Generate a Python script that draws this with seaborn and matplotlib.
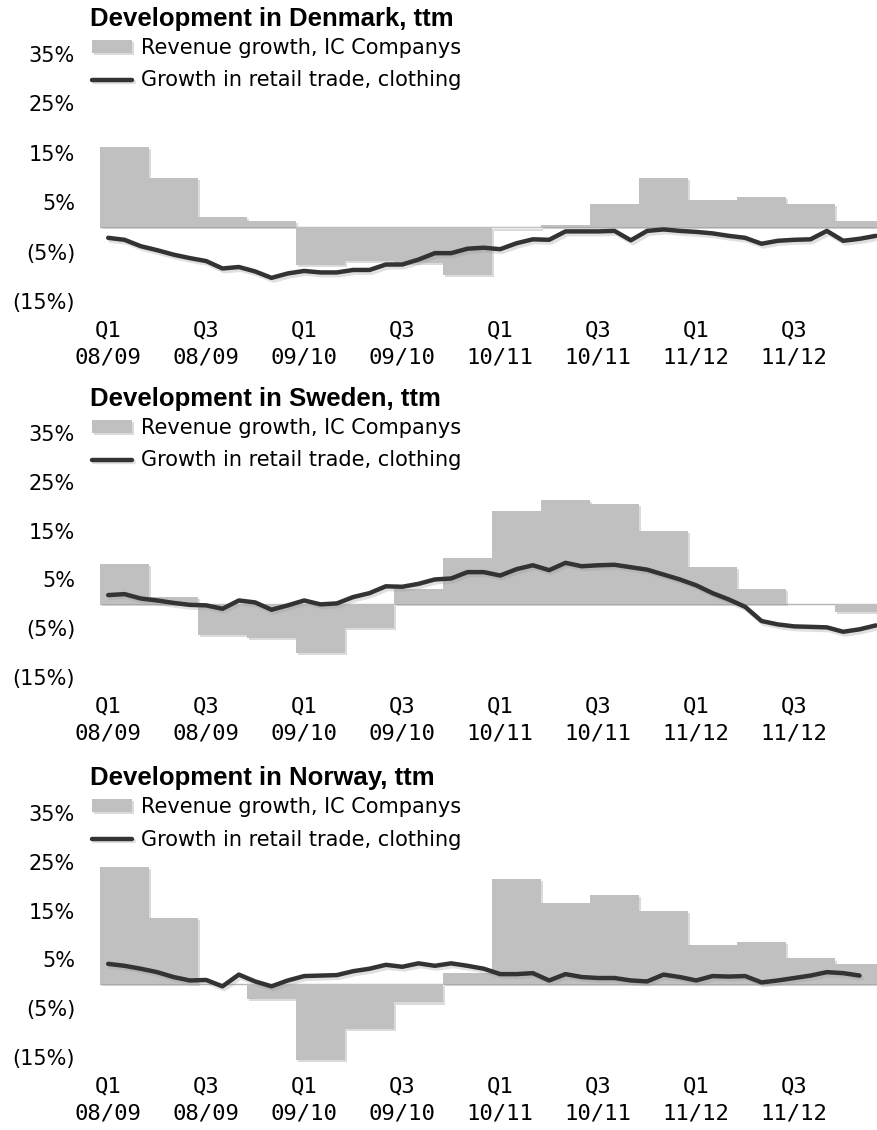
import numpy as np
import pandas as pd
import matplotlib
matplotlib.use("Agg")
import matplotlib.pyplot as plt
import matplotlib.patheffects as pe
import seaborn as sns

# months Q1 08/09 .. Q4 11/12 (48 months, 16 quarters)
months = np.arange(48)
quarter_mid = np.arange(1, 48, 3)
tick_months = [0, 6, 12, 18, 24, 30, 36, 42]
tick_labels = ["Q1\n08/09", "Q3\n08/09", "Q1\n09/10", "Q3\n09/10",
               "Q1\n10/11", "Q3\n10/11", "Q1\n11/12", "Q3\n11/12"]
ytick_vals = [35, 25, 15, 5, -5, -15]

countries = ["Denmark", "Sweden", "Norway"]

dk_rev = [16.2, 10.0, 2.1, 1.3, -7.7, -6.9, -7.3, -9.8, -0.3, 0.4, 4.6, 10.0, 5.4, 6.1, 4.6, 1.2]
dk_retail = [-2.2, -2.6, -3.9, -4.7, -5.6, -6.3, -6.9, -8.4, -8.1, -9.0, -10.3, -9.4,
             -8.9, -9.2, -9.2, -8.7, -8.7, -7.6, -7.6, -6.6, -5.3, -5.3, -4.4, -4.2,
             -4.5, -3.3, -2.5, -2.6, -0.9, -0.9, -0.9, -0.8, -2.7, -0.8, -0.5, -0.8,
             -1.0, -1.3, -1.8, -2.2, -3.4, -2.8, -2.6, -2.5, -0.8, -2.8, -2.4, -1.8]

se_rev = [8.2, 1.4, -6.4, -6.9, -10.0, -4.9, 3.1, 9.3, 19.0, 21.2, 20.4, 15.0, 7.5, 3.1, 0.0, -1.6]
se_retail = [1.8, 2.0, 1.1, 0.7, 0.2, -0.2, -0.3, -1.0, 0.7, 0.3, -1.2, -0.3,
             0.7, -0.1, 0.1, 1.4, 2.2, 3.6, 3.5, 4.1, 5.0, 5.2, 6.5, 6.5,
             5.8, 7.1, 7.9, 6.9, 8.4, 7.7, 7.9, 8.0, 7.5, 7.0, 6.0, 5.0,
             3.8, 2.2, 0.9, -0.6, -3.5, -4.2, -4.6, -4.7, -4.8, -5.7, -5.2, -4.4]

no_rev = [24.0, 13.5, 0.0, -3.1, -15.5, -9.2, -3.8, 2.2, 21.4, 16.5, 18.2, 15.0, 8.0, 8.5, 5.2, 4.1]
no_retail = [4.1, 3.7, 3.1, 2.4, 1.4, 0.7, 0.8, -0.5, 1.9, 0.5, -0.5, 0.7,
             1.6, 1.7, 1.8, 2.6, 3.1, 3.9, 3.5, 4.2, 3.7, 4.2, 3.7, 3.1,
             2.0, 2.0, 2.2, 0.7, 2.0, 1.4, 1.2, 1.2, 0.7, 0.5, 1.9, 1.4,
             0.7, 1.6, 1.5, 1.6, 0.3, 0.7, 1.2, 1.7, 2.4, 2.2, 1.7]

revs = [dk_rev, se_rev, no_rev]
retails = [dk_retail, se_retail, no_retail]

sns.set_style("white")
plt.rcParams["font.family"] = ["DejaVu Sans"]
plt.rcParams["text.color"] = "black"
plt.rcParams["xtick.color"] = "black"
plt.rcParams["ytick.color"] = "black"

W, H = 877, 1130
fig = plt.figure(figsize=(W / 100, H / 100), dpi=100)

# pixel layout of each panel: (top, bottom) of the axes, title y
panels = [(44, 311, 18), (423, 687, 398), (803, 1067, 777)]
x_left, x_right = 100, 884

def fmt_pct(v):
    return "%d%%" % v if v >= 0 else "(%d%%)" % -v

for i in range(3):
    top, bot, ty = panels[i]
    ax = fig.add_axes([x_left / W, 1 - bot / H, (x_right - x_left) / W, (bot - top) / H])

    bars = pd.DataFrame({"month": quarter_mid, "growth": revs[i]})
    line = pd.DataFrame({"month": months[:len(retails[i])], "growth": retails[i]})

    ax.axhline(0, color="#b4b4b4", lw=1.0, zorder=0.5)
    sns.barplot(data=bars, x="month", y="growth", native_scale=True, orient="x",
                width=1.0, color="#c0c0c0", saturation=1, errorbar=None,
                linewidth=0, label="Revenue growth, IC Companys", ax=ax)
    for p in ax.patches:
        p.set_path_effects([pe.SimplePatchShadow(offset=(1.5, -1.5), shadow_rgbFace="0.6", alpha=0.35),
                            pe.Normal()])
    sns.lineplot(data=line, x="month", y="growth", color="#333333", lw=3.2,
                 label="Growth in retail trade, clothing", ax=ax,
                 path_effects=[pe.SimpleLineShadow(offset=(1.5, -2), shadow_color="0.6", alpha=0.3),
                               pe.Normal()])

    ax.set_xlim(-0.5, 47.5)
    ax.set_ylim(-17, 37)
    ax.set_xticks(tick_months)
    ax.set_xticklabels(tick_labels, family="DejaVu Sans Mono", fontsize=16, linespacing=1.4)
    ax.set_yticks(ytick_vals)
    ax.set_yticklabels([fmt_pct(v) for v in ytick_vals], fontsize=15)
    ax.tick_params(axis="x", length=0, pad=7)
    ax.tick_params(axis="y", length=0, pad=18)
    ax.set_xlabel("")
    ax.set_ylabel("")
    sns.despine(ax=ax, left=True, bottom=True)

    handles, labels = ax.get_legend_handles_labels()
    order = [labels.index("Revenue growth, IC Companys"),
             labels.index("Growth in retail trade, clothing")]
    ax.legend([handles[k] for k in order], [labels[k] for k in order],
              loc="upper left", bbox_to_anchor=(92 / W, 1 - (ty + 20) / H),
              bbox_transform=fig.transFigure, frameon=False, fontsize=15,
              borderpad=0, borderaxespad=0, handlelength=1.9, handleheight=0.6,
              handletextpad=0.45, labelspacing=0.6)

    fig.text(90 / W, 1 - (ty + 1) / H, "Development in %s, ttm" % countries[i],
             family="Liberation Sans", fontweight="bold", fontsize=18.5, va="center", ha="left")

fig.savefig("out.png", dpi=100)
